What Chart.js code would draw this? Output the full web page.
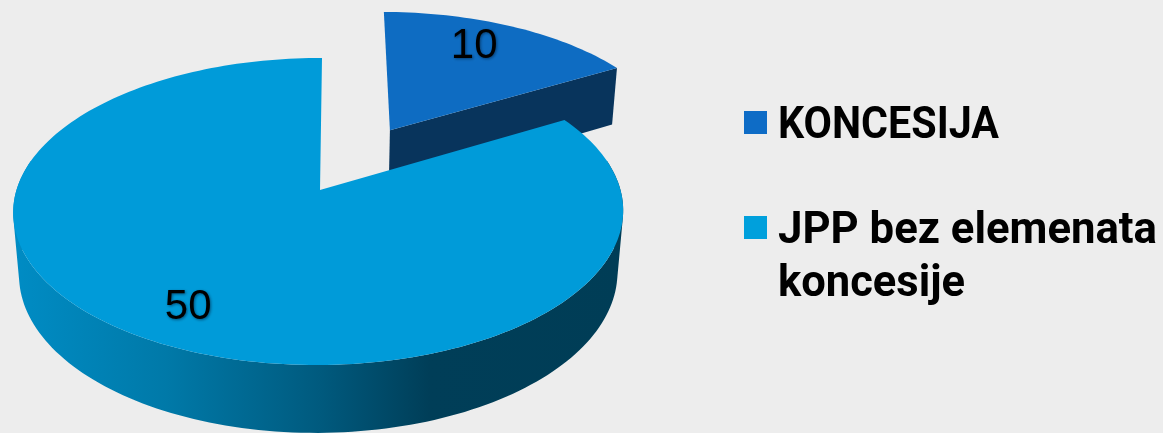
<!DOCTYPE html>
<html>
<head>
    <title>Koncesije</title>
    <script src="https://cdn.jsdelivr.net/npm/chart.js"></script>
    <style>
        html, body { margin: 0; padding: 0; background: #ededed; overflow: hidden; }
        #chartContainer { width: 1163px; height: 433px; }
    </style>
</head>
<body>

    <div id="chartContainer">
        <canvas id="pieChart" width="1163" height="433"></canvas>
    </div>

    <script>
        // Chart data
        var categories = ["KONCESIJA", "JPP bez elemenata koncesije"];
        var legendLines = [["KONCESIJA"], ["JPP bez elemenata", "koncesije"]];
        var values = [10, 50];
        var topColors = ["#0e6cc2", "#009bd9"];
        var legendColors = ["#0e6cc6", "#00a0dc"];
        var explode = [84.5, 0];
        var labelNudge = [[-12, -2], [-2, 6]];

        // Tilted camera used to lay the flat pie on its side
        var view = { cx: 320, cy: 190, rx: 302, ry: 150.5, down: 63, k: 0.14, j: 0.005, m: 0.019, shear: 2 };

        // u, v are in pie radii (v grows towards the viewer), h is 0 on top and 1 at the bottom
        function project(u, v, h) {
            var d = 1 - view.k * v + view.j * u + view.m * h;
            return {
                x: view.cx + view.rx * u / d - view.shear * v,
                y: view.cy + (view.ry * v + view.down * h) / d
            };
        }

        // Walks the outline of one arc element in pie radii
        function rimPoints(arc) {
            var p = arc.getProps(["startAngle", "endAngle", "outerRadius"], true);
            var off = arc.options.offset / p.outerRadius;
            var mid = (p.startAngle + p.endAngle) / 2;
            var ox = Math.cos(mid) * off;
            var oy = Math.sin(mid) * off;
            var pts = [];
            var steps = Math.ceil((p.endAngle - p.startAngle) * 40);
            for (var i = 0; i <= steps; i++) {
                var a = p.startAngle + (p.endAngle - p.startAngle) * i / steps;
                pts.push([ox + Math.cos(a), oy + Math.sin(a)]);
            }
            return { centre: [ox, oy], rim: pts, mid: mid };
        }

        function tracePoly(ctx, list) {
            ctx.beginPath();
            addPoly(ctx, list);
        }

        function addPoly(ctx, list) {
            list.forEach(function (q, i) {
                if (i === 0) ctx.moveTo(q.x, q.y); else ctx.lineTo(q.x, q.y);
            });
            ctx.closePath();
        }

        // Side wall as one path of same-turning quads, so the folds do not cancel out
        function addWall(ctx, rim) {
            ctx.beginPath();
            for (var i = 0; i < rim.length - 1; i++) {
                // back of the rim is hidden anyway
                if (rim[i][1] < -0.2 || rim[i + 1][1] < -0.2) continue;
                var quad = [
                    project(rim[i][0], rim[i][1], 0),
                    project(rim[i + 1][0], rim[i + 1][1], 0),
                    project(rim[i + 1][0], rim[i + 1][1], 1),
                    project(rim[i][0], rim[i][1], 1)
                ];
                var area = 0;
                quad.forEach(function (q, n) {
                    var r = quad[(n + 1) % 4];
                    area += q.x * r.y - r.x * q.y;
                });
                addPoly(ctx, area > 0 ? quad : quad.reverse());
            }
        }

        function drawSlice(ctx, arc, index) {
            var shape = rimPoints(arc);
            var top = shape.rim.map(function (q) { return project(q[0], q[1], 0); });
            var end = shape.rim[shape.rim.length - 1];
            var c0 = project(shape.centre[0], shape.centre[1], 0);
            var c1 = project(shape.centre[0], shape.centre[1], 1);

            if (index === 0) {
                // flat dark wall of the pulled out slice
                ctx.fillStyle = "#08345c";
                tracePoly(ctx, [c0, top[top.length - 1], project(end[0], end[1], 1), c1]);
                ctx.fill();
            } else {
                var g = ctx.createLinearGradient(15, 0, 625, 0);
                g.addColorStop(0, "#008cc4");
                g.addColorStop(0.25, "#0079a8");
                g.addColorStop(0.5, "#005a7e");
                g.addColorStop(0.68, "#003e58");
                g.addColorStop(1, "#003d56");
                ctx.fillStyle = g;
                addWall(ctx, shape.rim);
                ctx.fill();
            }

            ctx.fillStyle = topColors[index];
            tracePoly(ctx, [c0].concat(top));
            ctx.fill();
        }

        // Pie is drawn from the arc elements, only tipped over
        var tiltedPie = {
            id: "tiltedPie",
            beforeDatasetsDraw: function (chart) {
                var ctx = chart.ctx;
                var arcs = chart.getDatasetMeta(0).data;
                ctx.save();
                arcs.forEach(function (arc, i) { drawSlice(ctx, arc, i); });

                // value labels
                ctx.font = "42px 'Liberation Sans'";
                ctx.textAlign = "center";
                ctx.textBaseline = "middle";
                ctx.fillStyle = "#000000";
                ctx.shadowColor = "rgba(0,30,60,0.6)";
                ctx.shadowBlur = 3;
                ctx.shadowOffsetX = 1;
                ctx.shadowOffsetY = 1;
                arcs.forEach(function (arc, i) {
                    var shape = rimPoints(arc);
                    var pos = project(shape.centre[0] + Math.cos(shape.mid) * 0.77, shape.centre[1] + Math.sin(shape.mid) * 0.77, 0);
                    ctx.fillText(String(values[i]), pos.x + labelNudge[i][0], pos.y + labelNudge[i][1]);
                });
                ctx.restore();
                return false;
            },
            afterDraw: function (chart) {
                var ctx = chart.ctx;
                ctx.save();
                var rows = [
                    { box: 111, base: [138], width: [221] },
                    { box: 216, base: [243, 296], width: [379, 187] }
                ];
                ctx.font = "bold 45px Roboto";
                ctx.textBaseline = "alphabetic";
                ctx.textAlign = "left";
                rows.forEach(function (row, i) {
                    ctx.fillStyle = legendColors[i];
                    ctx.fillRect(744, row.box, 23, 23);
                    ctx.fillStyle = "#000000";
                    legendLines[i].forEach(function (line, n) {
                        ctx.fillText(line, 778, row.base[n], row.width[n]);
                    });
                });
                ctx.restore();
            }
        };

        var chart = new Chart(document.getElementById("pieChart"), {
            type: "pie",
            data: {
                labels: categories,
                datasets: [{
                    data: values,
                    backgroundColor: topColors,
                    borderWidth: 0,
                    offset: explode
                }]
            },
            options: {
                responsive: false,
                animation: false,
                plugins: {
                    legend: { display: false },
                    tooltip: { enabled: false }
                }
            },
            plugins: [tiltedPie]
        });
    </script>

</body>
</html>
